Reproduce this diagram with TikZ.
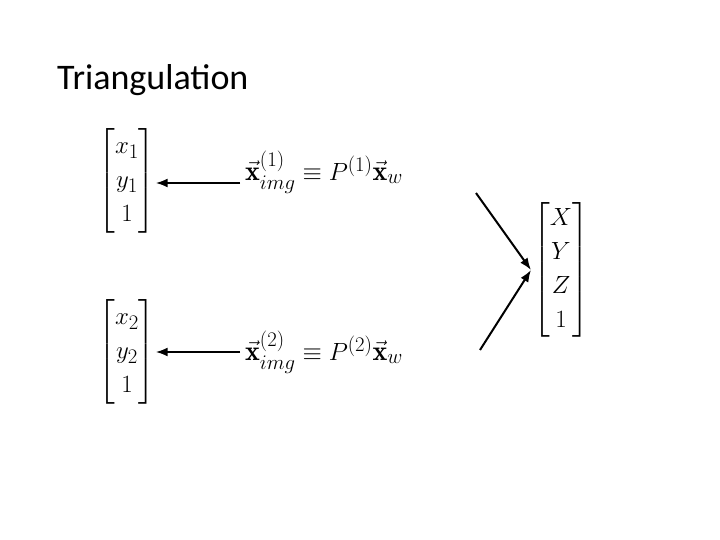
\documentclass[tikz,border=0pt]{standalone}
\usepackage{amsmath}
\usepackage{fontspec}
\setsansfont{Carlito}
\usetikzlibrary{arrows.meta}
\begin{document}
\begin{tikzpicture}[x=1pt,y=-1pt,
  txt/.style={inner sep=0pt,font=\fontsize{28}{34}\selectfont},
  arr/.style={-{Latex[length=12pt,width=9pt]},line width=2pt}]
\useasboundingbox (0,0) rectangle (720,540);
\node[anchor=west,inner sep=0pt,font=\sffamily\fontsize{36}{40}\selectfont] (title) at (57,80) {Triangulation};
\node[txt] (m1) at (127,181) {$\begin{bmatrix} x_1\\ y_1\\ 1\end{bmatrix}$};
\node[txt] (m2) at (127,352) {$\begin{bmatrix} x_2\\ y_2\\ 1\end{bmatrix}$};
\node[txt] (m3) at (561,270) {$\begin{bmatrix} X\\ Y\\ Z\\ 1\end{bmatrix}$};
\node[txt,anchor=west] (e1) at (245,172) {$\vec{\mathbf{x}}^{(1)}_{img}\equiv P^{(1)}\vec{\mathbf{x}}_w$};
\node[txt,anchor=west] (e2) at (245,352) {$\vec{\mathbf{x}}^{(2)}_{img}\equiv P^{(2)}\vec{\mathbf{x}}_w$};
\coordinate (a1) at (240,183);
\coordinate (a2) at (240,352);
\draw[arr] (a1) -- (m1.east |- a1);
\draw[arr] (a2) -- (m2.east |- a2);
\coordinate (b1) at (476,193);
\coordinate (b2) at (480,350);
\coordinate (t) at (531,270);
\draw[arr] (b1) -- (t);
\draw[arr] (b2) -- (t);
\end{tikzpicture}
\end{document}
